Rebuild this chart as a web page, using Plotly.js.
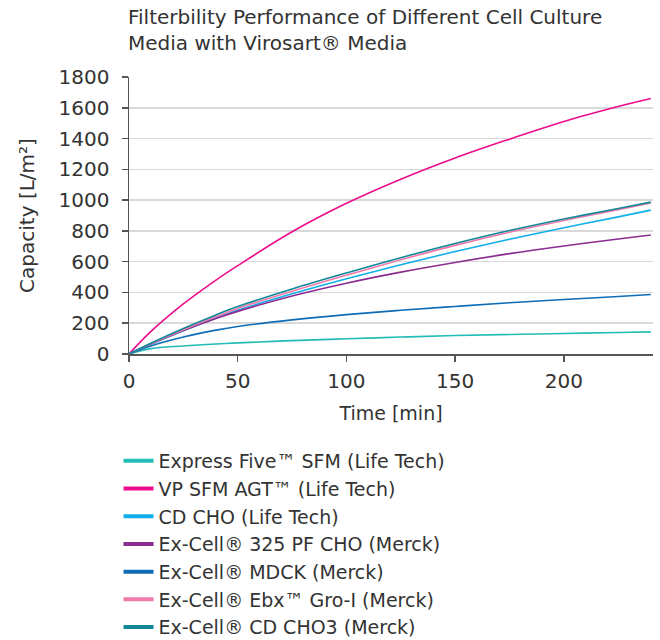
<!DOCTYPE html>
<html>
<head>
<meta charset="utf-8">
<script src="https://cdn.plot.ly/plotly-3.0.1.min.js"></script>
<style>
html,body{margin:0;padding:0;background:#fff;}
#chart{width:660px;height:640px;}
</style>
</head>
<body>
<div id="chart"></div>
<script>
const time = [0, 10, 25, 40, 50, 75, 100, 125, 150, 175, 200, 225, 240];
const seriesNames = [
  "Express Five™ SFM (Life Tech)",
  "VP SFM AGT™ (Life Tech)",
  "CD CHO (Life Tech)",
  "Ex-Cell® 325 PF CHO (Merck)",
  "Ex-Cell® MDCK (Merck)",
  "Ex-Cell® Ebx™ Gro-I (Merck)",
  "Ex-Cell® CD CHO3 (Merck)"
];
const expressFive = [0, 35, 52, 65, 72, 87, 99, 110, 120, 127, 133, 140, 144];
const vpSfmAgt    = [0, 145, 325, 480, 574, 794, 979, 1136, 1274, 1396, 1511, 1608, 1660];
const cdCho       = [0, 63, 151, 234, 284, 391, 489, 580, 666, 746, 821, 891, 935];
const exCell325   = [0, 65, 153, 231, 277, 377, 460, 532, 595, 652, 702, 747, 773];
const exCellMdck  = [0, 52, 110, 155, 179, 222, 256, 284, 309, 333, 354, 374, 387];
const exCellEbx   = [0, 66, 157, 243, 296, 408, 512, 612, 706, 791, 867, 938, 981];
const exCellCho3  = [0, 70, 166, 254, 308, 423, 527, 626, 718, 802, 877, 946, 987];
const seriesValues = [expressFive, vpSfmAgt, cdCho, exCell325, exCellMdck, exCellEbx, exCellCho3];
const colors = ["#22bdb6", "#ec0c8c", "#0fb0ea", "#8b2c91", "#0f6cb6", "#f07aaa", "#11889a"];
const xTicks = [0, 50, 100, 150, 200];
const yTicks = [0, 200, 400, 600, 800, 1000, 1200, 1400, 1600, 1800];

const traces = [];
seriesNames.forEach((n, i) => traces.push({
  x: time, y: seriesValues[i], name: n, type: "scatter", mode: "lines",
  line: {color: colors[i], width: 1.6, shape: "spline", smoothing: 1},
  showlegend: false, hoverinfo: "skip"
}));
seriesNames.forEach((n, i) => traces.push({
  x: [null], y: [null], name: n, type: "scatter", mode: "lines",
  line: {color: colors[i], width: 4}, showlegend: true, hoverinfo: "skip"
}));

const font = "'DejaVu Sans', sans-serif";
const ink = "#333";
const layout = {
  width: 660, height: 640,
  margin: {l: 129, r: 7, t: 77, b: 286},
  paper_bgcolor: "#fff", plot_bgcolor: "#fff",
  font: {family: font, color: ink, size: 18},
  title: {text: "Filterbility Performance of Different Cell Culture<br>Media with Virosart® Media",
          x: 128 / 660, xref: "container", xanchor: "left",
          y: 1 - 24 / 640, yref: "container", yanchor: "top",
          font: {family: font, size: 20, color: ink}},
  xaxis: {range: [0, 241], tickvals: xTicks, ticks: "outside", ticklen: 6, tickwidth: 1.5, tickcolor: "#555",
          showline: true, linecolor: "#555", linewidth: 1.5, showgrid: false, zeroline: false,
          tickfont: {size: 20, color: ink}, ticklabelstandoff: 2,
          title: {text: "Time [min]", font: {size: 19, color: ink}, standoff: 15}},
  yaxis: {range: [0, 1800], tickvals: yTicks, ticks: "outside", ticklen: 6, tickwidth: 1.5, tickcolor: "#555",
          showline: true, linecolor: "#555", linewidth: 1.5, showgrid: true, gridcolor: "#d9d9d9", gridwidth: 1.5,
          zeroline: false, tickfont: {size: 20, color: ink}, ticklabelstandoff: 8,
          title: {text: "Capacity [L/m²]", font: {size: 20, color: ink}, standoff: 18}},
  showlegend: true,
  legend: {orientation: "v", x: -0.02, xanchor: "left", y: 1 - 442 / 640, yref: "container", yanchor: "top",
           font: {size: 19, color: ink}, traceorder: "normal", itemwidth: 30}
};
Plotly.newPlot("chart", traces, layout, {displayModeBar: false, staticPlot: true});
</script>
</body>
</html>
